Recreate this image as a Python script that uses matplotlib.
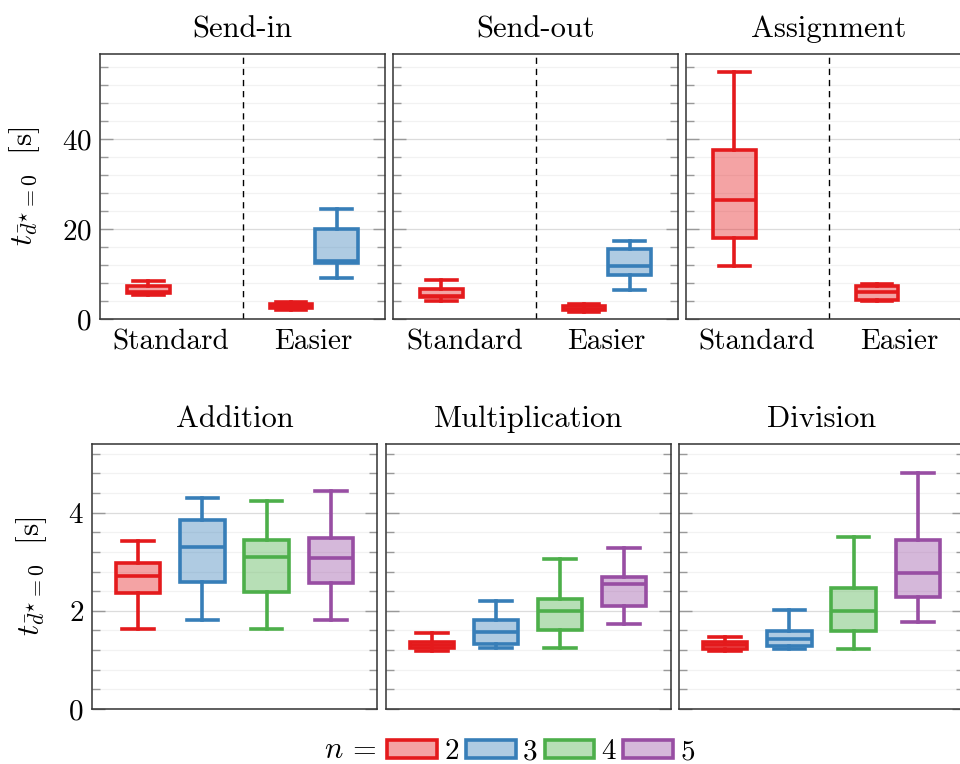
import matplotlib
matplotlib.use("Agg")
import matplotlib.pyplot as plt
from matplotlib.colors import to_rgba
from matplotlib.patches import Patch
from matplotlib.ticker import MultipleLocator

plt.rcParams['font.family'] = 'serif'
plt.rcParams['font.serif'] = ['cmr10']
plt.rcParams['mathtext.fontset'] = 'cm'
plt.rcParams['axes.formatter.use_mathtext'] = True
plt.rcParams['font.size'] = 21

# box stats: (whisker low, Q1, median, Q3, whisker high)
n_values = [2, 3, 4, 5]
colors = ['#e41a1c', '#377eb8', '#4daf4a', '#984ea3']

top_titles = ['Send-in', 'Send-out', 'Assignment']
top_categories = ['Standard', 'Easier']

send_in_n2 = [(5.3, 5.8, 6.1, 7.4, 8.4), (2.0, 2.4, 2.8, 3.3, 3.7)]
send_in_n3 = [None, (9.1, 12.5, 13.0, 20.1, 24.6)]
send_out_n2 = [(4.0, 4.9, 5.2, 6.7, 8.6), (1.6, 1.9, 2.3, 2.9, 3.3)]
send_out_n3 = [None, (6.4, 9.9, 11.7, 15.6, 17.4)]
assign_n2 = [(11.9, 18.0, 26.4, 37.6, 55.0), (4.0, 4.3, 6.0, 7.4, 7.7)]
assign_n3 = [None, None]

bottom_titles = ['Addition', 'Multiplication', 'Division']
addition = [(1.64, 2.36, 2.72, 2.97, 3.42), (1.82, 2.59, 3.30, 3.86, 4.30),
            (1.63, 2.38, 3.09, 3.45, 4.24), (1.81, 2.57, 3.08, 3.49, 4.45)]
multiplication = [(1.18, 1.24, 1.30, 1.37, 1.54), (1.24, 1.33, 1.56, 1.81, 2.21),
                  (1.25, 1.62, 2.00, 2.25, 3.06), (1.74, 2.10, 2.54, 2.70, 3.29)]
division = [(1.18, 1.22, 1.31, 1.37, 1.46), (1.22, 1.29, 1.43, 1.59, 2.01),
            (1.22, 1.59, 2.00, 2.47, 3.50), (1.77, 2.29, 2.78, 3.44, 4.81)]

top_data = [(send_in_n2, send_in_n3), (send_out_n2, send_out_n3), (assign_n2, assign_n3)]
bottom_data = [addition, multiplication, division]

ylabel = r'$t_{\bar{d}^{\star}=0}\ \ [\mathrm{s}]$'
LW = 2.6


def stats(v):
    lo, q1, med, q3, hi = v
    return dict(whislo=lo, q1=q1, med=med, q3=q3, whishi=hi, fliers=[])


def draw_box(ax, v, pos, width, color):
    ax.bxp([stats(v)], positions=[pos], widths=width, capwidths=0.72 * width,
           patch_artist=True, showfliers=False, manage_ticks=False,
           boxprops=dict(facecolor=to_rgba(color, 0.4), edgecolor=color, linewidth=LW),
           whiskerprops=dict(color=color, linewidth=LW),
           capprops=dict(color=color, linewidth=LW),
           medianprops=dict(color=color, linewidth=LW))


def style_axes(ax, first):
    for s in ax.spines.values():
        s.set_color('#333333')
        s.set_linewidth(1.1)
    ax.set_axisbelow(True)
    ax.grid(axis='y', which='major', color='#dcdcdc', linewidth=0.9)
    ax.grid(axis='y', which='minor', color='#f2f2f2', linewidth=0.9)
    ax.tick_params(axis='y', which='both', direction='in', left=True, right=True,
                   color='#999999', width=1.0, labelleft=first, pad=6)
    ax.tick_params(axis='y', which='major', length=9)
    ax.tick_params(axis='y', which='minor', length=6)


fig = plt.figure(figsize=(9.6, 7.64), dpi=100)
W, H = 960, 764
aw, ah = 285, 265

# top row
for i, (title, (d2, d3)) in enumerate(zip(top_titles, top_data)):
    left = 100 + i * 293
    ax = fig.add_axes([left / W, (H - 319) / H, aw / W, ah / H])
    for j in range(len(top_categories)):
        if d2[j] is not None:
            draw_box(ax, d2[j], j - 0.16, 0.3, colors[0])
        if d3[j] is not None:
            draw_box(ax, d3[j], j + 0.16, 0.3, colors[1])
    ax.axvline(0.5, color='black', linestyle=(0, (4.5, 3.5)), linewidth=1.0)
    ax.set_xlim(-0.5, 1.5)
    ax.set_ylim(0, 59)
    ax.yaxis.set_major_locator(MultipleLocator(20))
    ax.yaxis.set_minor_locator(MultipleLocator(4))
    ax.set_xticks([0, 1], top_categories)
    ax.tick_params(axis='x', length=0, pad=7)
    style_axes(ax, i == 0)
    ax.set_title(title, pad=12, fontsize=22)
    if i == 0:
        ax.set_ylabel(ylabel, labelpad=14, fontsize=22.5)

# bottom row
offsets = [-0.3375, -0.1125, 0.1125, 0.3375]
for i, (title, data) in enumerate(zip(bottom_titles, bottom_data)):
    left = 92 + i * 293.5
    ax = fig.add_axes([left / W, (H - 709) / H, aw / W, ah / H])
    for v, off, c in zip(data, offsets, colors):
        draw_box(ax, v, off, 0.155, c)
    ax.set_xlim(-0.5, 0.5)
    ax.set_ylim(0, 5.4)
    ax.yaxis.set_major_locator(MultipleLocator(2))
    ax.yaxis.set_minor_locator(MultipleLocator(0.4))
    ax.set_xticks([])
    style_axes(ax, i == 0)
    ax.set_title(title, pad=12, fontsize=22)
    if i == 0:
        ax.set_ylabel(ylabel, labelpad=14, fontsize=22.5)

handles = [Patch(facecolor=to_rgba(c, 0.4), edgecolor=c, linewidth=LW, label=str(n))
           for n, c in zip(n_values, colors)]
fig.legend(handles=handles, loc='center', bbox_to_anchor=(541 / W, 1 - 752 / H),
           ncol=4, frameon=False, handlelength=1.7, handleheight=0.6,
           handletextpad=0.25, columnspacing=0.25, borderaxespad=0,
           borderpad=0, fontsize=21)
fig.text(376 / W, 1 - 750 / H, r'$n\,=$', ha='right', va='center', fontsize=22)

fig.savefig('out.png', dpi=100)
